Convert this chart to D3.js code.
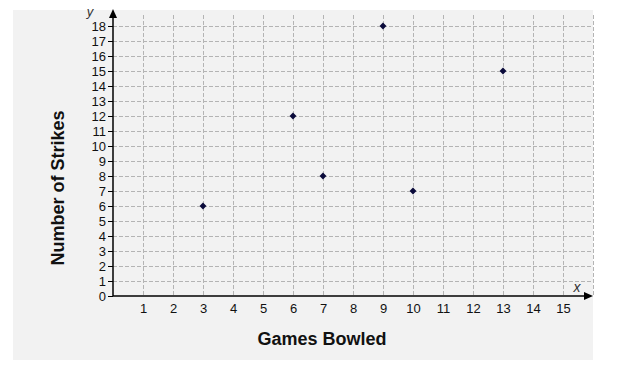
<!DOCTYPE html>
<html>
<head>
<meta charset="utf-8">
<script src="https://cdn.jsdelivr.net/npm/d3@7"></script>
<style>
  body { margin: 0; background: #fff; }
  text { font-family: "Liberation Sans", Arial, sans-serif; }
</style>
</head>
<body>
<script>
var width = 641;
var height = 368;

// data
var games = [3, 6, 7, 9, 10, 13];
var strikes = [6, 12, 8, 18, 7, 15];
var xTicks = d3.range(1, 16);
var yTicks = d3.range(0, 19);

var origin = {x: 113, y: 296};
var tickFont = '"Liberation Sans Narrow", "Arial Narrow", "Liberation Sans", sans-serif';

var svg = d3.select('body')
    .append('svg')
    .attr('width', width)
    .attr('height', height);

// grey panel
svg.append('rect')
    .attr('x', 13)
    .attr('y', 10)
    .attr('width', 580)
    .attr('height', 350)
    .attr('fill', '#f2f2f2');

var xScale = d3.scaleLinear()
    .domain([0, 15])
    .range([origin.x, origin.x + 450]);

var yScale = d3.scaleLinear()
    .domain([0, 18])
    .range([origin.y, origin.y - 270]);

// dashed grid
var grid = svg.append('g')
    .attr('stroke', '#b4b4b4')
    .attr('stroke-width', 1)
    .attr('stroke-dasharray', '4,2')
    .attr('shape-rendering', 'crispEdges');

grid.selectAll('line.v')
    .data(xTicks.concat([16]))
    .enter()
    .append('line')
    .attr('x1', function (d) { return xScale(d); })
    .attr('x2', function (d) { return xScale(d); })
    .attr('y1', 15)
    .attr('y2', origin.y);

grid.selectAll('line.h')
    .data(yTicks.slice(1))
    .enter()
    .append('line')
    .attr('x1', origin.x)
    .attr('x2', 591)
    .attr('y1', function (d) { return yScale(d); })
    .attr('y2', function (d) { return yScale(d); });

// axes
var xAxis = d3.axisBottom(xScale)
    .tickValues(xTicks)
    .tickSize(0)
    .tickPadding(8);

var yAxis = d3.axisLeft(yScale)
    .tickValues(yTicks)
    .tickSize(5)
    .tickPadding(2);

var gx = svg.append('g')
    .attr('transform', 'translate(0,' + origin.y + ')')
    .call(xAxis);
gx.select('.domain').remove();
gx.selectAll('text')
    .attr('font-size', 13)
    .attr('font-family', tickFont)
    .attr('fill', '#111');

var gy = svg.append('g')
    .attr('transform', 'translate(' + origin.x + ',0)')
    .call(yAxis);
gy.select('.domain').remove();
gy.selectAll('text')
    .attr('font-size', 13)
    .attr('font-family', tickFont)
    .attr('fill', '#111');
gy.selectAll('line').attr('stroke', '#000');

// axis lines with arrows
svg.append('line')
    .attr('x1', origin.x).attr('y1', origin.y)
    .attr('x2', 586).attr('y2', origin.y)
    .attr('stroke', '#000').attr('stroke-width', 1.5);
svg.append('path')
    .attr('d', 'M593,' + origin.y + ' L584,' + (origin.y - 4) + ' L584,' + (origin.y + 4) + ' Z')
    .attr('fill', '#000');

svg.append('line')
    .attr('x1', origin.x).attr('y1', origin.y)
    .attr('x2', origin.x).attr('y2', 17)
    .attr('stroke', '#000').attr('stroke-width', 1.5);
svg.append('path')
    .attr('d', 'M' + origin.x + ',9 L' + (origin.x - 4) + ',18 L' + (origin.x + 4) + ',18 Z')
    .attr('fill', '#000');

// axis letters
svg.append('text')
    .attr('x', 577).attr('y', 292)
    .attr('text-anchor', 'middle')
    .attr('font-style', 'italic')
    .attr('font-size', 14)
    .attr('fill', '#333')
    .text('x');
svg.append('text')
    .attr('x', 90).attr('y', 16)
    .attr('text-anchor', 'middle')
    .attr('font-style', 'italic')
    .attr('font-size', 13)
    .attr('fill', '#333')
    .text('y');

// titles
svg.append('text')
    .attr('x', 322).attr('y', 345)
    .attr('text-anchor', 'middle')
    .attr('font-weight', 'bold')
    .attr('font-size', 18)
    .attr('fill', '#111')
    .text('Games Bowled');

svg.append('text')
    .attr('transform', 'translate(64,188) rotate(-90)')
    .attr('text-anchor', 'middle')
    .attr('font-weight', 'bold')
    .attr('font-size', 18)
    .attr('fill', '#111')
    .text('Number of Strikes');

// points
var diamond = d3.symbol().type(d3.symbolDiamond2).size(30);

svg.selectAll('path.pt')
    .data(games)
    .enter()
    .append('path')
    .attr('class', 'pt')
    .attr('d', diamond)
    .attr('transform', function (d, i) {
        return 'translate(' + xScale(d) + ',' + yScale(strikes[i]) + ')';
    })
    .attr('fill', '#0a0a3a');
</script>
</body>
</html>
